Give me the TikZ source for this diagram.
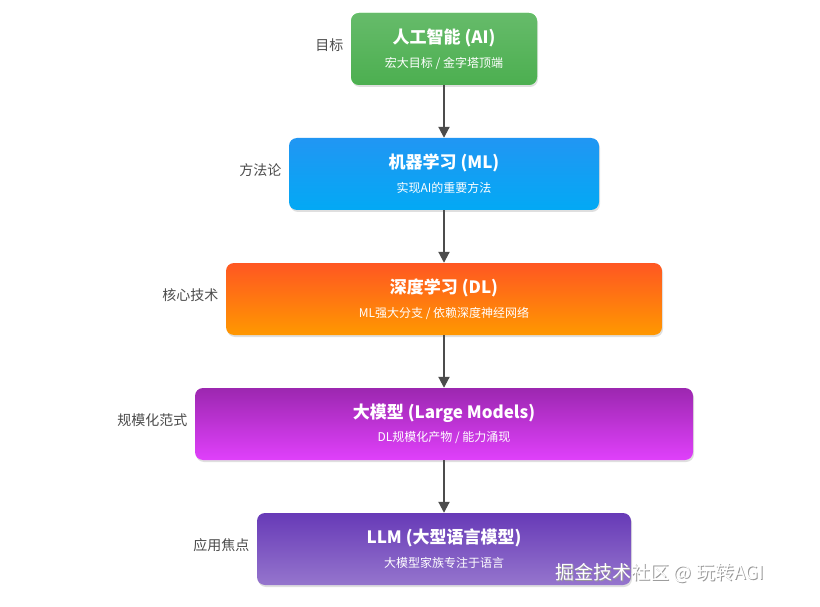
\documentclass[tikz,border=0pt]{standalone}
\usepackage{fontspec}
\setmainfont{Noto Sans CJK SC}
\usetikzlibrary{shadows,arrows.meta}
\begin{document}
\begin{tikzpicture}[x=1pt,y=-1pt,
  box/.style={rounded corners=8pt,draw=none,drop shadow={opacity=0.25,shadow xshift=1pt,shadow yshift=-2pt}},
  ttl/.style={text=white,font=\fontsize{17}{19}\selectfont\bfseries},
  sub/.style={text=white,font=\fontsize{12}{14}\selectfont},
  side/.style={text=black!70,font=\fontsize{14}{16}\selectfont\itshape,anchor=east},
  arr/.style={-{Triangle[length=11pt,width=11pt]},line width=2pt,draw=black!70}]
\useasboundingbox (0,0) rectangle (820,607);
\fill[white] (0,0) rectangle (820,607);
% boxes
\node[box,top color=green!55!black!20!green!60,bottom color=green!60!black!40!green!60,minimum width=186pt,minimum height=72pt] (ai) at (444,49) {};
\shade[top color={rgb,255:red,102;green,187;blue,106},bottom color={rgb,255:red,76;green,175;blue,80},rounded corners=8pt] (351,13) rectangle (537,85);
\node[box,minimum width=310pt,minimum height=72pt,top color={rgb,255:red,33;green,150;blue,243},bottom color={rgb,255:red,3;green,169;blue,244}] (ml) at (444,174) {};
\node[box,minimum width=436pt,minimum height=72pt,top color={rgb,255:red,255;green,87;blue,34},bottom color={rgb,255:red,255;green,152;blue,0}] (dl) at (444,299) {};
\node[box,minimum width=498pt,minimum height=72pt,top color={rgb,255:red,156;green,39;blue,176},bottom color={rgb,255:red,224;green,64;blue,251}] (lm) at (444,424) {};
\node[box,minimum width=374pt,minimum height=72pt,top color={rgb,255:red,103;green,58;blue,183},bottom color={rgb,255:red,149;green,117;blue,205}] (llm) at (444,549) {};
% texts
\node[ttl] (t1) at (444,38) {人工智能 (AI)};
\node[sub] (s1) at (444,63) {宏大目标 / 金字塔顶端};
\node[ttl] (t2) at (444,163) {机器学习 (ML)};
\node[sub] (s2) at (444,188) {实现AI的重要方法};
\node[ttl] (t3) at (444,288) {深度学习 (DL)};
\node[sub] (s3) at (444,313) {ML强大分支 / 依赖深度神经网络};
\node[ttl] (t4) at (444,413) {大模型 (Large Models)};
\node[sub] (s4) at (444,438) {DL规模化产物 / 能力涌现};
\node[ttl] (t5) at (444,538) {LLM (大型语言模型)};
\node[sub] (s5) at (444,563) {大模型家族专注于语言};
% side labels
\node[side] (l1) at (347,45) {目标};
\node[side] (l2) at (285,170) {方法论};
\node[side] (l3) at (222,295) {核心技术};
\node[side] (l4) at (191,420) {规模化范式};
\node[side] (l5) at (253,545) {应用焦点};
% arrows
\draw[arr] (ai.south) -- (ml.north);
\draw[arr] (ml.south) -- (dl.north);
\draw[arr] (dl.south) -- (lm.north);
\draw[arr] (lm.south) -- (llm.north);
% watermark
\node[text=black!40,font=\fontsize{19}{21}\selectfont] (wm0) at (661,574) {掘金技术社区 @ 玩转AGI};
\node[text=white,font=\fontsize{19}{21}\selectfont] (wm) at (660,573) {掘金技术社区 @ 玩转AGI};
\end{tikzpicture}
\end{document}
